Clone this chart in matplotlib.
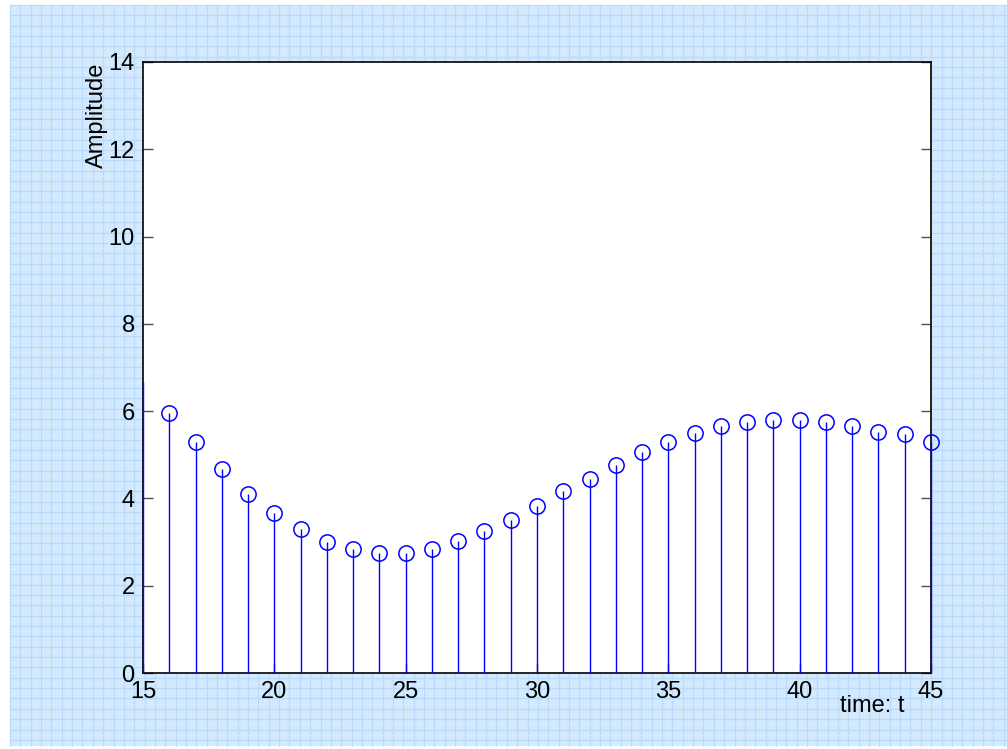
import numpy as np
import matplotlib.pyplot as plt
from matplotlib.patches import Rectangle

plt.rcParams['font.family'] = ['Liberation Sans', 'DejaVu Sans']

# sampled signal
t = list(range(15, 46))
amp = [6.67, 5.95, 5.30, 4.68, 4.11, 3.66, 3.29, 3.00, 2.83, 2.76,
       2.76, 2.85, 3.02, 3.25, 3.51, 3.83, 4.16, 4.44, 4.77, 5.06,
       5.30, 5.51, 5.67, 5.75, 5.80, 5.80, 5.74, 5.66, 5.53, 5.47, 5.30]
xticks = [15, 20, 25, 30, 35, 40, 45]
yticks = [0, 2, 4, 6, 8, 10, 12, 14]

W, H = 1007, 749
fig = plt.figure(figsize=(W / 100, H / 100), dpi=100)
fig.patch.set_facecolor('white')

# graph-paper backdrop
bg = fig.add_axes([0, 0, 1, 1], zorder=-1)
bg.set_xlim(0, W)
bg.set_ylim(H, 0)
bg.axis('off')
bg.add_patch(Rectangle((10, 5), W - 10, 741, facecolor='#d3e9fd', edgecolor='none'))
step = 10.35
for gx in np.arange(10, W, step):
    bg.plot([gx, gx], [5, 746], color='#b9dafa', lw=0.9)
    bg.plot([gx + step / 2] * 2, [5, 746], color='#e2f0fd', lw=0.6, ls=(0, (1, 2)))
for gy in np.arange(5, 746, step):
    bg.plot([10, W], [gy, gy], color='#b9dafa', lw=0.9)
    bg.plot([10, W], [gy + step / 2] * 2, color='#e2f0fd', lw=0.6, ls=(0, (1, 2)))

ax = fig.add_axes([143 / W, 1 - 673 / H, 788 / W, 611 / H])
ax.set_facecolor('white')

ax.vlines(t, 0, amp, colors='blue', lw=1.0, zorder=3, clip_on=False)
ax.plot(t[1:], amp[1:], 'o', mfc='none', mec='blue', ms=11, mew=1.1,
        zorder=4, clip_on=False)

ax.set_xlim(15, 45)
ax.set_ylim(0, 14)
ax.set_xticks(xticks)
ax.set_yticks(yticks)
ax.tick_params(direction='in', length=7, width=1, color='#505050',
               right=True, labelsize=17, pad=6)
for s in ax.spines.values():
    s.set_linewidth(1.2)

fig.text(97 / W, 1 - 115 / H, 'Amplitude', rotation=90,
         ha='center', va='center', fontsize=17)
fig.text(872 / W, 1 - 706 / H, 'time: t', ha='center', va='center',
         fontsize=17)

fig.savefig('out.png', dpi=100)
